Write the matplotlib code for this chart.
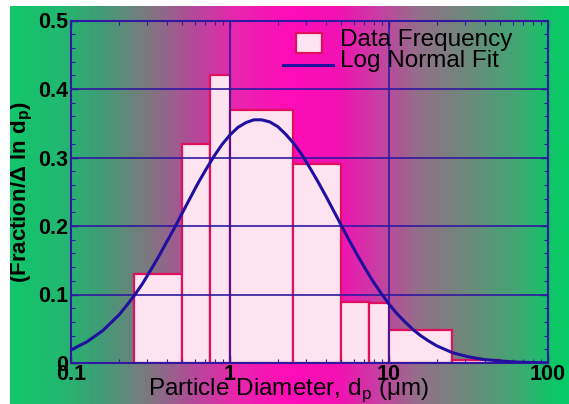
import numpy as np
import matplotlib
matplotlib.use("Agg")
import matplotlib.pyplot as plt
import matplotlib.patches as mpatches
from matplotlib.lines import Line2D
from matplotlib.colors import LinearSegmentedColormap
from matplotlib.ticker import LogLocator, MultipleLocator, FixedLocator, FixedFormatter

# ---------------- data ----------------
bin_edges = [0.25, 0.5, 0.75, 1.0, 2.5, 5.0, 7.5, 10.0, 25.0, 50.0]
bar_heights = [0.13, 0.32, 0.42, 0.37, 0.29, 0.089, 0.087, 0.048, 0.005]

fit_x = [0.1, 0.126, 0.158, 0.2, 0.224, 0.251, 0.282, 0.316, 0.355, 0.398, 0.447,
         0.501, 0.562, 0.631, 0.708, 0.794, 0.891, 1.0, 1.122, 1.26, 1.413, 1.58,
         1.778, 2.0, 2.239, 2.51, 2.818, 3.16, 3.548, 3.98, 4.467, 5.01, 5.623,
         6.31, 7.079, 7.94, 8.913, 10.0, 11.22, 12.6, 14.13, 15.8, 17.78, 20.0,
         25.1, 31.6, 39.8, 50.1, 63.1, 79.4, 100.0]
fit_y = [0.019, 0.031, 0.047, 0.070, 0.084, 0.099, 0.116, 0.135, 0.155, 0.176, 0.197,
         0.219, 0.241, 0.263, 0.283, 0.302, 0.319, 0.333, 0.344, 0.351, 0.355, 0.355,
         0.352, 0.345, 0.334, 0.321, 0.305, 0.286, 0.266, 0.245, 0.223, 0.201, 0.179,
         0.158, 0.138, 0.119, 0.102, 0.086, 0.072, 0.060, 0.049, 0.040, 0.032, 0.025,
         0.015, 0.009, 0.005, 0.003, 0.0014, 0.0007, 0.0003]

x_ticks = [0.1, 1, 10, 100]
x_tick_labels = ["0.1", "1", "10", "100"]
y_ticks = [0, 0.1, 0.2, 0.3, 0.4, 0.5]
y_tick_labels = ["0", "0.1", "0.2", "0.3", "0.4", "0.5"]

legend_labels = ["Data Frequency", "Log Normal Fit"]
x_label = "Particle Diameter, d$_\\mathregular{p}$ (\u03bcm)"
y_label = "(Fraction/\u0394 ln d$_\\mathregular{p}$)"

# ---------------- style ----------------
W, H = 569, 404
grad_px = [0, 10, 60, 100, 145, 190, 235, 290, 340, 380, 420, 470, 520, 548, 569]
grad_colors = ['#12c66a', '#12c66a', '#22b870', '#3f9c76', '#7a7a7e', '#b04c98',
               '#e826ae', '#ff0cb8', '#f212b2', '#c640a2', '#927088', '#6c8a7c',
               '#40a872', '#14c268', '#05cc66']
bar_face = '#fde4f0'
bar_edge = '#e0105e'
line_col = '#2010a0'
grid_col = '#3018a0'

plt.rcParams['font.family'] = ['Liberation Sans', 'DejaVu Sans']
plt.rcParams['mathtext.fontset'] = 'custom'
plt.rcParams['mathtext.rm'] = 'Liberation Sans'
plt.rcParams['mathtext.bf'] = 'Liberation Sans:bold'

fig = plt.figure(figsize=(W / 100, H / 100), dpi=100)


def fx(px):
    return px / W


def fy(py):
    return 1 - py / H


# background gradient
cmap = LinearSegmentedColormap.from_list(
    'bg', list(zip(np.array(grad_px) / W, grad_colors)))
bg = fig.add_axes([0, 0, 1, 1], zorder=-10)
bg.imshow(np.linspace(0, 1, W)[None, :], cmap=cmap, aspect='auto',
          extent=[0, 1, 0, 1], vmin=0, vmax=1)
bg.set_axis_off()
# white strips (cropped scan margins)
fig.patches.append(mpatches.Rectangle((0, fy(6)), 1, 6 / H, transform=fig.transFigure,
                                      facecolor='white', edgecolor='none', zorder=0))
fig.patches.append(mpatches.Rectangle((0, 0), fx(10), 1, transform=fig.transFigure,
                                      facecolor='white', edgecolor='none', zorder=0))

ax_l, ax_r, ax_t, ax_b = 71, 548, 20.5, 363
ax = fig.add_axes([fx(ax_l), fy(ax_b), (ax_r - ax_l) / W, (ax_b - ax_t) / H])
ax.set_facecolor('none')

lefts = bin_edges[:-1]
widths = [b - a for a, b in zip(bin_edges[:-1], bin_edges[1:])]
bars = ax.bar(lefts, bar_heights, width=widths, align='edge', color=bar_face,
              edgecolor=bar_edge, linewidth=1.6, zorder=1, label=legend_labels[0])
line, = ax.plot(fit_x, fit_y, color=line_col, lw=2.2, zorder=3, label=legend_labels[1],
                solid_joinstyle='round')

ax.set_xscale('log')
ax.set_xlim(0.1, 100)
ax.set_ylim(0, 0.5)
ax.xaxis.set_major_locator(FixedLocator(x_ticks))
ax.xaxis.set_major_formatter(FixedFormatter(x_tick_labels))
ax.xaxis.set_minor_locator(LogLocator(base=10, subs=np.arange(2, 10)))
ax.xaxis.set_minor_formatter(plt.NullFormatter())
ax.yaxis.set_major_locator(FixedLocator(y_ticks))
ax.yaxis.set_major_formatter(FixedFormatter(y_tick_labels))
ax.yaxis.set_minor_locator(MultipleLocator(0.02))

ax.set_axisbelow(False)
ax.grid(True, which='major', color=grid_col, lw=1.2)
for s in ax.spines.values():
    s.set_color(grid_col)
    s.set_linewidth(1.5)
ax.tick_params(which='both', direction='in', colors=grid_col, top=True, right=True,
               labelcolor='black')
ax.tick_params(which='major', length=5, width=1, labelsize=15.5, pad=2)
ax.tick_params(axis='x', which='major', pad=1)
ax.tick_params(which='minor', length=3, width=0.8)
for lab in ax.get_xticklabels() + ax.get_yticklabels():
    lab.set_fontweight('bold')

ax.set_xlabel(x_label, fontsize=17.5)
ax.xaxis.label.set_va('baseline')
ax.xaxis.set_label_coords(0.455, (ax_b - 395) / (ax_b - ax_t))
ax.set_ylabel(y_label, fontsize=16, fontweight='bold')
ax.yaxis.set_label_coords((35 - ax_l) / (ax_r - ax_l), 0.5)

# legend (drawn as figure artists)
fig.patches.append(mpatches.Rectangle((fx(296), fy(53)), 26 / W, 20 / H,
                                      transform=fig.transFigure, facecolor=bar_face,
                                      edgecolor=bar_edge, linewidth=1.6, zorder=4))
fig.lines.append(Line2D([fx(283), fx(333)], [fy(65), fy(65)], transform=fig.transFigure,
                        color=line_col, lw=2.2, zorder=4))
fig.text(fx(340), fy(46), legend_labels[0], fontsize=17.5, va='baseline', ha='left')
fig.text(fx(340), fy(66.5), legend_labels[1], fontsize=17.5, va='baseline', ha='left')

fig.savefig('out.png', dpi=100)
